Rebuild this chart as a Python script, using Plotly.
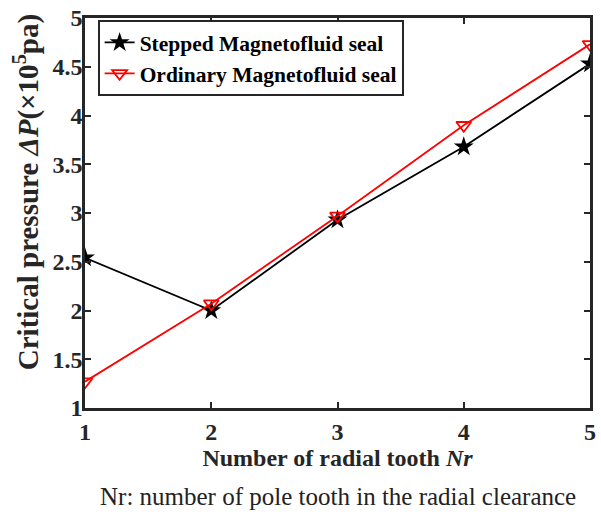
import plotly.graph_objects as go

nr = [1, 2, 3, 4, 5]
stepped = [2.54, 2.00, 2.93, 3.68, 4.53]
ordinary = [1.27, 2.07, 2.97, 3.90, 4.73]
x_ticks = [1, 2, 3, 4, 5]
y_ticks = [1, 1.5, 2, 2.5, 3, 3.5, 4, 4.5, 5]

FONT = "Liberation Serif"
AXIS = "#262626"

fig = go.Figure()
fig.add_trace(go.Scatter(
    x=nr, y=stepped, mode="lines+markers",
    name="<b>Stepped Magnetofluid seal</b>",
    line=dict(color="black", width=1.8),
    marker=dict(symbol="star", size=15, color="black"),
))
fig.add_trace(go.Scatter(
    x=nr, y=ordinary, mode="lines+markers",
    name="<b>Ordinary Magnetofluid seal</b>",
    line=dict(color="red", width=1.8),
    marker=dict(symbol="triangle-down-open", size=13, color="red",
                line=dict(width=1.8, color="red")),
))

axis_common = dict(
    showline=True, linecolor=AXIS, linewidth=2.5, mirror="ticks",
    ticks="inside", ticklen=6, tickwidth=2, tickcolor=AXIS,
    showgrid=False, zeroline=False,
    tickfont=dict(family=FONT, size=24, color="#262626"),
)

fig.update_xaxes(
    range=[1, 5], tickvals=x_ticks, ticktext=[f"<b>{v}</b>" for v in x_ticks],
    title=dict(text="<b>Number of radial tooth <i>Nr</i></b>",
               font=dict(family=FONT, size=24, color="#262626"), standoff=6),
    **axis_common,
)
fig.update_yaxes(
    range=[1, 5], tickvals=y_ticks,
    ticktext=[f"<b>{v:g}</b>" for v in y_ticks],
    ticklabelstandoff=-5,
    **axis_common,
)

# y-axis title placed as a rotated annotation
fig.add_annotation(
    text="<b>Critical pressure <i>ΔP</i>(×10<sup>5</sup>pa)</b>",
    xref="paper", yref="paper", x=-0.117, y=0.553,
    xanchor="center", yanchor="middle", textangle=-90, showarrow=False,
    font=dict(family=FONT, size=29, color="#262626"),
)

fig.add_annotation(
    text="Nr: number of pole tooth in the radial clearance",
    xref="paper", yref="paper", x=0.5, y=-0.226, xanchor="center", yanchor="middle",
    showarrow=False, font=dict(family=FONT, size=25, color="#222222"),
)

fig.update_layout(
    width=601, height=516,
    margin=dict(l=85, r=5, t=14, b=108),
    plot_bgcolor="white", paper_bgcolor="white",
    showlegend=True,
    legend=dict(
        x=0.025, y=0.995, xanchor="left", yanchor="top",
        bgcolor="white", bordercolor=AXIS, borderwidth=2,
        font=dict(family=FONT, size=21.5, color="black"),
        tracegroupgap=0, itemwidth=30,
    ),
)

fig.write_html("out.html")
